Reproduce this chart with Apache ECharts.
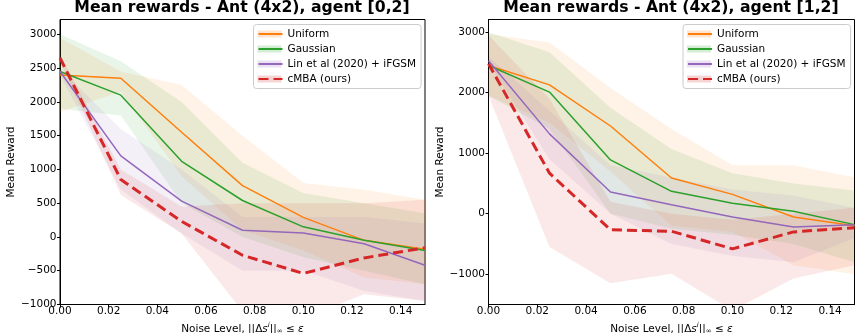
<!DOCTYPE html>
<html>
<head>
<meta charset="utf-8">
<script src="https://cdn.jsdelivr.net/npm/echarts@6/dist/echarts.min.js"></script>
<style>
html, body { margin: 0; padding: 0; background: #fff; }
#main { width: 855px; height: 333px; }
</style>
</head>
<body>
<div id="main"></div>
<script>
// noise levels (x)
var noise = [0, 0.025, 0.05, 0.075, 0.1, 0.125, 0.15];

// tick labels
var xTicks   = [0, 0.02, 0.04, 0.06, 0.08, 0.10, 0.12, 0.14];
var yTicks02 = [-1000, -500, 0, 500, 1000, 1500, 2000, 2500, 3000];
var yTicks12 = [-1000, 0, 1000, 2000, 3000];

// agent [0,2]
var uniMean02 = [2400, 2350, 1550, 760, 290, -50, -180];
var uniUp02   = [2950, 2450, 2250, 1500, 800, 700, 550];
var uniLo02   = [1850, 2150, 900, 100, -200, -600, -700];
var gauMean02 = [2450, 2100, 1120, 540, 150, -50, -200];
var gauUp02   = [3000, 2600, 2000, 1100, 650, 500, 350];
var gauLo02   = [1900, 1800, 500, 0, -300, -500, -700];
var linMean02 = [2450, 1200, 530, 100, 60, -100, -420];
var linUp02   = [2500, 1600, 1000, 300, 300, 300, 200];
var linLo02   = [2400, 700, 50, -500, -500, -800, -950];
var cmbMean02 = [2650, 850, 230, -270, -540, -310, -160];
var cmbUp02   = [2700, 1000, 450, 500, 500, 500, 550];
var cmbLo02   = [2600, 620, 50, -1100, -1200, -850, -950];

// agent [1,2]
var uniMean12 = [2450, 2130, 1450, 590, 320, -55, -200];
var uniUp12   = [2970, 2830, 2080, 1400, 800, 800, 600];
var uniLo12   = [1950, 1500, 700, -200, -300, -850, -1000];
var gauMean12 = [2450, 2010, 890, 370, 175, 40, -180];
var gauUp12   = [3000, 2670, 1750, 1070, 670, 500, 385];
var gauLo12   = [1950, 1400, 0, -250, -350, -500, -800];
var linMean12 = [2530, 1320, 360, 150, -55, -220, -180];
var linUp12   = [2600, 1700, 800, 600, 400, 300, 100];
var linLo12   = [2500, 900, 0, -500, -700, -800, -400];
var cmbMean12 = [2480, 670, -265, -290, -580, -300, -230];
var cmbUp12   = [2950, 1900, 200, 0, -100, 0, 100];
var cmbLo12   = [1950, -550, -1150, -990, -1600, -1070, -850];

var names  = ['Uniform', 'Gaussian', 'Lin et al (2020) + iFGSM', 'cMBA (ours)'];
var colors = ['#ff7f0e', '#2ca02c', '#9467bd', '#d62728'];
var bands  = ['rgba(255,127,14,0.1)', 'rgba(44,160,44,0.1)', 'rgba(148,103,189,0.1)', 'rgba(214,39,40,0.1)'];
var legendBands = ['rgba(255,127,14,0.2)', 'rgba(44,160,44,0.2)', 'rgba(148,103,189,0.2)', 'rgba(214,39,40,0.2)'];
var FONT = 'DejaVu Sans';
var FS = 10.5;

function pairs(ys) {
    var out = [];
    for (var i = 0; i < noise.length; i++) out.push([noise[i], ys[i]]);
    return out;
}

var series = [];

// shaded band: one polygon per series, upper edge then lower edge back
function bandSeries(g, k, up, lo) {
    var rows = [];
    for (var i = 0; i < noise.length; i++) rows.push([noise[i], up[i], lo[i]]);
    return {
        name: names[k] + '\u200b', type: 'custom', xAxisIndex: g, yAxisIndex: g,
        data: rows, silent: true, z: 1, clip: true,
        itemStyle: {color: bands[k]},
        encode: {x: 0, y: [1, 2]},
        renderItem: function (params, api) {
            if (params.dataIndex !== 0) return;
            var pts = [];
            for (var i = 0; i < rows.length; i++) pts.push(api.coord([rows[i][0], rows[i][1]]));
            for (var i = rows.length - 1; i >= 0; i--) pts.push(api.coord([rows[i][0], rows[i][2]]));
            var cs = params.coordSys;
            return {
                type: 'polygon', shape: {points: pts},
                style: {fill: bands[k], stroke: null},
                clipPath: {type: 'rect', shape: {x: cs.x, y: cs.y, width: cs.width, height: cs.height}}
            };
        }
    };
}

function addPanel(g, means, ups, los) {
    for (var k = 0; k < 4; k++) series.push(bandSeries(g, k, ups[k], los[k]));
    for (var k = 0; k < 4; k++) {
        var dashed = k === 3;
        series.push({
            name: names[k], type: 'line', xAxisIndex: g, yAxisIndex: g,
            data: pairs(means[k]), symbol: 'none', z: 3,
            itemStyle: {color: colors[k]},
            lineStyle: {color: colors[k], width: dashed ? 3 : 1.5, type: dashed ? [10, 5] : 'solid'}
        });
    }
}

addPanel(0, [uniMean02, gauMean02, linMean02, cmbMean02],
            [uniUp02, gauUp02, linUp02, cmbUp02],
            [uniLo02, gauLo02, linLo02, cmbLo02]);
addPanel(1, [uniMean12, gauMean12, linMean12, cmbMean12],
            [uniUp12, gauUp12, linUp12, cmbUp12],
            [uniLo12, gauLo12, linLo12, cmbLo12]);

function grid(left, width) {
    return {left: left, top: 19.5, width: width, height: 285, show: true,
            outerBoundsMode: 'none', containLabel: false,
            borderColor: '#000', borderWidth: 1, backgroundColor: 'transparent'};
}

function xAxis(g) {
    return {
        type: 'value', gridIndex: g, min: 0, max: 0.15,
        name: 'Noise Level, ||Δ{it|s}{sup|i}||{sub|∞} ≤ {it|ε}',
        nameLocation: 'middle', nameGap: 12,
        nameTextStyle: {fontFamily: FONT, fontSize: FS, color: '#000',
            rich: {
                it: {fontFamily: FONT, fontSize: FS, fontStyle: 'italic', color: '#000'},
                sup: {fontFamily: FONT, fontSize: 7, fontStyle: 'italic', color: '#000', padding: [0, 0, 7, 0]},
                sub: {fontFamily: FONT, fontSize: 7, color: '#000', padding: [5, 0, 0, 0]}
            }},
        splitLine: {show: false},
        axisLine: {show: true, onZero: false, lineStyle: {color: '#000', width: 1}},
        axisTick: {show: true, length: 3, lineStyle: {color: '#000'}, customValues: xTicks},
        axisLabel: {fontFamily: FONT, fontSize: FS, color: '#000', margin: 1.5, customValues: xTicks,
            formatter: function (v) { return v.toFixed(2); }}
    };
}

function yAxis(g, min, max, ticks, gap) {
    return {
        type: 'value', gridIndex: g, min: min, max: max,
        name: 'Mean Reward', nameLocation: 'middle', nameGap: gap,
        nameTextStyle: {fontFamily: FONT, fontSize: FS, color: '#000'},
        splitLine: {show: false},
        axisLine: {show: true, onZero: false, lineStyle: {color: '#000', width: 1}},
        axisTick: {show: true, length: 3, lineStyle: {color: '#000'}, customValues: ticks},
        axisLabel: {fontFamily: FONT, fontSize: FS, color: '#000', margin: 3.5, customValues: ticks,
            formatter: function (v) { return String(v).replace('-', '\u2212'); }}
    };
}

function legends(left) {
    var base = {
        orient: 'vertical', left: left, top: 24.5, itemWidth: 24, itemHeight: 7, itemGap: 2,
        padding: [3, 6, 3, 4], selectedMode: false
    };
    var a = Object.assign({}, base, {
        z: 4, icon: 'rect',
        backgroundColor: 'rgba(255,255,255,0.8)', borderColor: '#cccccc', borderWidth: 1, borderRadius: 3,
        data: names.map(function (n, k) { return {name: n + '\u200b', itemStyle: {color: legendBands[k]}}; }),
        textStyle: {fontFamily: FONT, fontSize: FS, lineHeight: 13, color: 'rgba(0,0,0,0)'}
    });
    var b = Object.assign({}, base, {
        z: 5, data: names.slice(),
        itemStyle: {opacity: 0},
        textStyle: {fontFamily: FONT, fontSize: FS, lineHeight: 13, color: '#000'}
    });
    return [a, b];
}

var chart = echarts.init(document.getElementById('main'));

option = {
    animation: false,
    title: [
        {text: 'Mean rewards - Ant (4x2), agent [0,2]', left: 242, top: 0, padding: 0, textAlign: 'center',
         textStyle: {fontFamily: FONT, fontSize: 15.7, fontWeight: 'bold', color: '#000'}},
        {text: 'Mean rewards - Ant (4x2), agent [1,2]', left: 671, top: 0, padding: 0, textAlign: 'center',
         textStyle: {fontFamily: FONT, fontSize: 15.7, fontWeight: 'bold', color: '#000'}}
    ],
    legend: legends(253.5).concat(legends(683)),
    grid: [grid(60, 365), grid(488.5, 366)],
    xAxis: [xAxis(0), xAxis(1)],
    yAxis: [yAxis(0, -1000, 3220, yTicks02, 40.5), yAxis(1, -1500, 3210, yTicks12, 39)],
    series: series
};

chart.setOption(option, true);
</script>
</body>
</html>
